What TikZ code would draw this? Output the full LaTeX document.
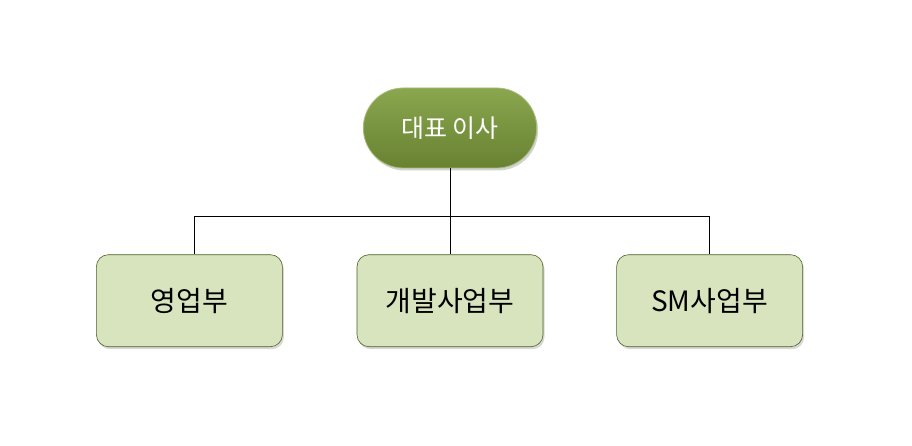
\documentclass[tikz,border=0pt]{standalone}
\usepackage{fontspec}
\setmainfont{Noto Sans CJK KR}
\usetikzlibrary{positioning,shadows,shapes.misc}
\definecolor{headfill}{RGB}{118,146,60}
\definecolor{headtop}{RGB}{138,166,78}
\definecolor{headbot}{RGB}{104,130,50}
\definecolor{deptfill}{RGB}{215,228,189}
\definecolor{deptline}{RGB}{78,96,40}
\tikzset{
  headbox/.style={rounded rectangle, minimum width=180pt, minimum height=80pt,
    top color=headtop, bottom color=headbot, draw=headtop!75!white, line width=0.8pt,
    text=white, font=\fontsize{25}{30}\selectfont,
    drop shadow={shadow xshift=1.5pt, shadow yshift=-2.5pt, fill=black!35}},
  deptbox/.style={draw=deptline, fill=deptfill, line width=0.6pt, rounded corners=12pt,
    minimum width=186pt, minimum height=92pt, font=\fontsize{28}{32}\selectfont,
    drop shadow={shadow xshift=1.5pt, shadow yshift=-2.5pt, fill=black!30}},
  linkln/.style={line width=0.7pt, black},
}
\begin{document}
\begin{tikzpicture}[x=1pt, y=1pt, node distance=86pt and 74pt]
  \useasboundingbox (0,0) rectangle (912,-446);
  \fill[white] (0,0) rectangle (912,-446);
  \node[headbox] (ceo) at (450,-128) {대표 이사};
  \node[deptbox, below=of ceo] (dev) {개발사업부};
  \node[deptbox, left=of dev] (sales) {영업부};
  \node[deptbox, right=73pt of dev] (sm) {SM사업부};
  \draw[linkln] (ceo.south) -- ++(0,-48) coordinate (bus);
  \draw[linkln] (bus) -| ([xshift=5pt]sales.north);
  \draw[linkln] (bus) -| (sm.north);
  \draw[linkln] (bus) -- (dev.north);
\end{tikzpicture}
\end{document}
